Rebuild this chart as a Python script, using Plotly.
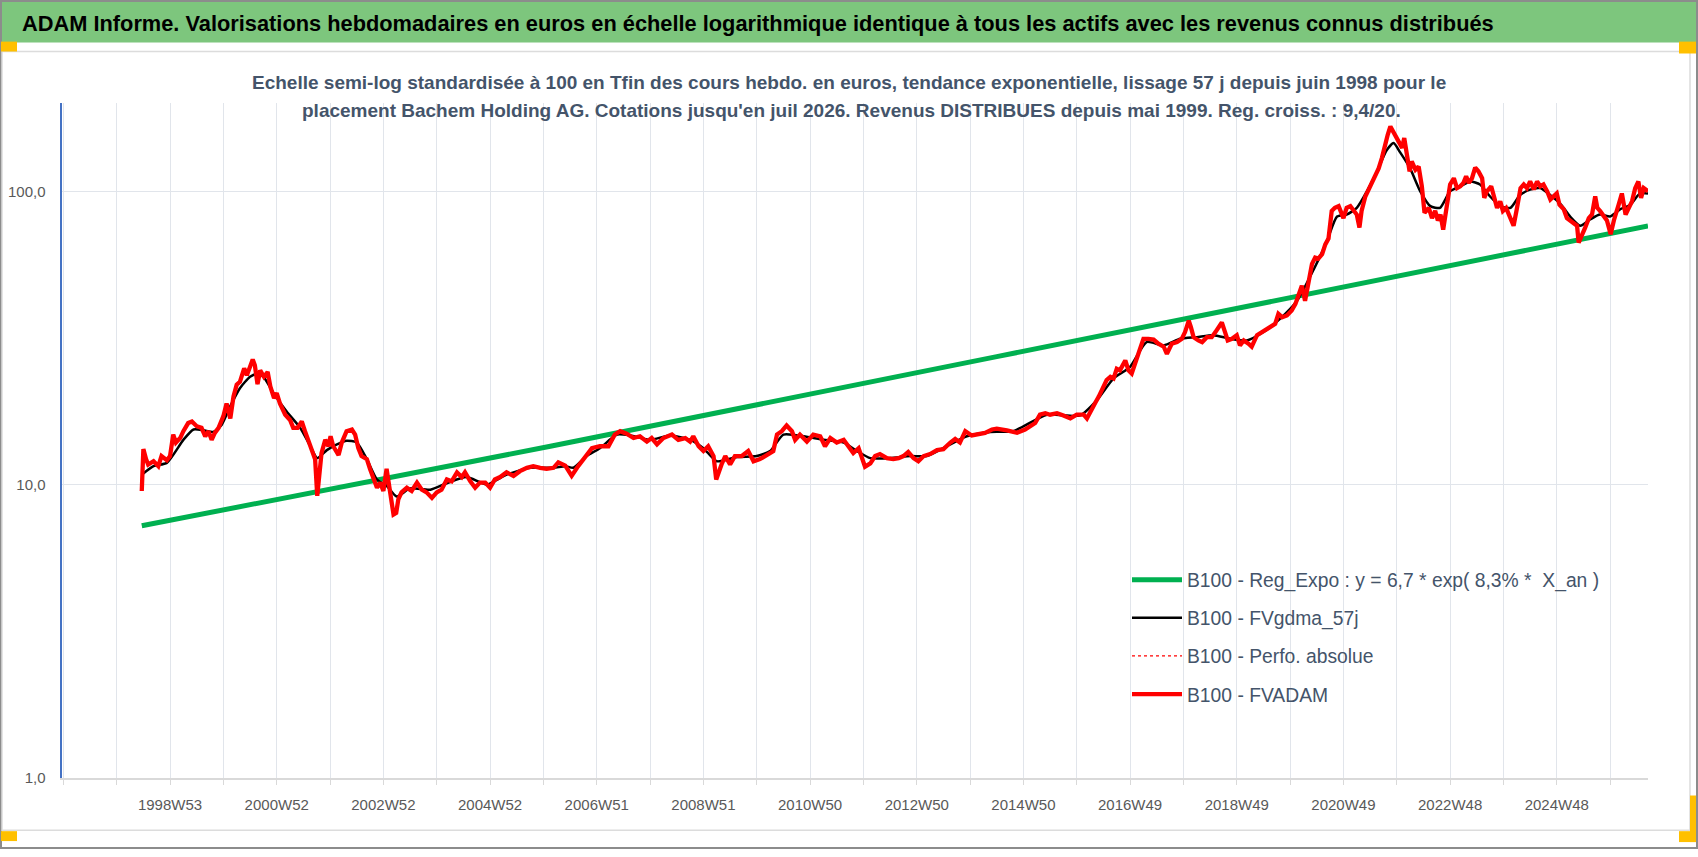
import plotly.graph_objects as go
import math

W, H = 1698, 857

# ---------------- data ----------------
# x = position in years on the weekly category axis, y = base-100 value
red_x = [1998.47, 1998.50, 1998.55, 1998.59, 1998.69, 1998.78, 1998.84, 1998.94, 1999.00, 1999.06,
         1999.11, 1999.19, 1999.25, 1999.34, 1999.41, 1999.50, 1999.59, 1999.66, 1999.72, 1999.78,
         1999.84, 1999.91, 2000.00, 2000.06, 2000.13, 2000.19, 2000.25, 2000.31, 2000.39, 2000.44,
         2000.50, 2000.55, 2000.59, 2000.64, 2000.69, 2000.76, 2000.83, 2000.88, 2000.95, 2001.00,
         2001.06, 2001.16, 2001.25, 2001.31, 2001.39, 2001.47, 2001.53, 2001.61, 2001.67, 2001.72,
         2001.76, 2001.80, 2001.84, 2001.91, 2001.97, 2002.01, 2002.06, 2002.16, 2002.22, 2002.31,
         2002.41, 2002.47, 2002.53, 2002.59, 2002.69, 2002.75, 2002.81, 2002.88, 2002.94, 2003.00,
         2003.06, 2003.13, 2003.19, 2003.24, 2003.28, 2003.34, 2003.44, 2003.53, 2003.63, 2003.72,
         2003.81, 2003.91, 2004.00, 2004.09, 2004.19, 2004.28, 2004.38, 2004.47, 2004.53, 2004.63,
         2004.72, 2004.81, 2004.91, 2005.00, 2005.09, 2005.19, 2005.31, 2005.44, 2005.56, 2005.69,
         2005.81, 2005.94, 2006.06, 2006.19, 2006.28, 2006.41, 2006.53, 2006.63, 2006.75, 2006.91,
         2007.06, 2007.22, 2007.34, 2007.44, 2007.56, 2007.69, 2007.81, 2007.94, 2008.03, 2008.13,
         2008.25, 2008.41, 2008.53, 2008.66, 2008.75, 2008.81, 2008.91, 2009.00, 2009.09, 2009.19,
         2009.24, 2009.28, 2009.34, 2009.41, 2009.50, 2009.59, 2009.72, 2009.84, 2009.94, 2010.06,
         2010.22, 2010.31, 2010.38, 2010.47, 2010.56, 2010.66, 2010.72, 2010.81, 2010.94, 2011.06,
         2011.19, 2011.28, 2011.38, 2011.50, 2011.63, 2011.72, 2011.81, 2011.91, 2011.97, 2012.03,
         2012.13, 2012.22, 2012.31, 2012.44, 2012.56, 2012.66, 2012.75, 2012.84, 2012.94, 2013.03,
         2013.13, 2013.25, 2013.38, 2013.50, 2013.63, 2013.72, 2013.81, 2013.91, 2014.03, 2014.16,
         2014.28, 2014.41, 2014.50, 2014.69, 2014.88, 2015.03, 2015.13, 2015.22, 2015.31, 2015.41,
         2015.50, 2015.63, 2015.75, 2015.88, 2016.00, 2016.13, 2016.19, 2016.25, 2016.34, 2016.41,
         2016.50, 2016.56, 2016.63, 2016.69, 2016.75, 2016.81, 2016.91, 2016.97, 2017.03, 2017.09,
         2017.16, 2017.25, 2017.34, 2017.44, 2017.53, 2017.63, 2017.69, 2017.78, 2017.88, 2017.97,
         2018.03, 2018.10, 2018.14, 2018.19, 2018.28, 2018.35, 2018.44, 2018.53, 2018.60, 2018.66,
         2018.72, 2018.78, 2018.83, 2018.91, 2019.00, 2019.06, 2019.13, 2019.22, 2019.28, 2019.38,
         2019.47, 2019.56, 2019.66, 2019.72, 2019.78, 2019.85, 2019.94, 2020.03, 2020.10, 2020.16,
         2020.22, 2020.28, 2020.35, 2020.41, 2020.47, 2020.53, 2020.60, 2020.66, 2020.72, 2020.78,
         2020.84, 2020.91, 2021.00, 2021.06, 2021.13, 2021.19, 2021.25, 2021.30, 2021.34, 2021.41,
         2021.47, 2021.53, 2021.60, 2021.66, 2021.72, 2021.78, 2021.83, 2021.88, 2021.93, 2021.97,
         2022.03, 2022.10, 2022.14, 2022.19, 2022.24, 2022.28, 2022.35, 2022.41, 2022.47, 2022.52,
         2022.60, 2022.66, 2022.72, 2022.77, 2022.82, 2022.87, 2022.94, 2023.00, 2023.07, 2023.13,
         2023.19, 2023.25, 2023.30, 2023.35, 2023.41, 2023.47, 2023.53, 2023.60, 2023.64, 2023.69,
         2023.77, 2023.82, 2023.88, 2023.94, 2023.99, 2024.05, 2024.11, 2024.19, 2024.25, 2024.32,
         2024.38, 2024.44, 2024.50, 2024.57, 2024.63, 2024.69, 2024.75, 2024.82, 2024.88, 2024.94,
         2025.00, 2025.05, 2025.13, 2025.19, 2025.25, 2025.32, 2025.38, 2025.41, 2025.47, 2025.53,
         2025.60, 2025.66, 2025.72, 2025.76, 2025.81, 2025.88, 2025.94, 2026.01, 2026.07, 2026.16,
         2026.22, 2026.29, 2026.35, 2026.41, 2026.47, 2026.53, 2026.58, 2026.63, 2026.71]
red_y = [9.5, 13.2, 12.2, 11.7, 12.0, 11.55, 12.5, 12.1, 12.5, 14.8,
         13.9, 14.4, 15.2, 16.2, 16.4, 15.8, 15.6, 14.6, 15.2, 14.2,
         15.0, 15.6, 17.1, 18.9, 16.8, 19.95, 21.9, 22.4, 24.9, 23.6,
         25.2, 26.7, 25.5, 22.0, 24.5, 23.3, 24.2, 21.6, 19.7, 20.5,
         18.9, 17.3, 16.6, 15.6, 15.6, 16.4, 15.2, 13.9, 12.8, 12.2,
         9.15, 11.0, 12.8, 14.2, 13.5, 14.6, 13.5, 12.6, 13.9, 15.2,
         15.4, 14.8, 13.3, 12.5, 12.2, 11.3, 10.6, 9.75, 10.15, 9.5,
         11.3, 9.4, 7.9, 8.0, 8.9, 9.4, 9.75, 9.5, 10.15, 9.6,
         9.4, 9.0, 9.4, 9.6, 10.4, 10.25, 11.0, 10.6, 11.0, 10.25,
         9.75, 10.15, 10.15, 9.75, 10.4, 10.6, 11.0, 10.7, 11.1, 11.4,
         11.55, 11.4, 11.3, 11.4, 11.9, 11.6, 10.7, 11.4, 12.2, 13.3,
         13.5, 13.5, 14.8, 15.2, 14.9, 14.4, 14.6, 14.0, 14.4, 13.7,
         14.4, 14.8, 14.2, 14.4, 14.0, 14.6, 13.5, 13.0, 13.5, 12.5,
         10.4, 11.0, 11.7, 12.5, 11.7, 12.5, 12.5, 13.0, 12.0, 12.2,
         12.7, 13.0, 14.8, 15.2, 15.9, 15.2, 14.2, 14.8, 14.0, 14.8,
         14.6, 13.5, 14.4, 13.9, 14.2, 13.5, 12.8, 13.3, 12.5, 11.5,
         11.8, 12.5, 12.7, 12.3, 12.2, 12.3, 12.5, 12.9, 12.3, 12.0,
         12.5, 12.7, 13.1, 13.2, 13.9, 14.3, 13.9, 15.2, 14.7, 14.9,
         15.0, 15.4, 15.5, 15.3, 15.0, 15.4, 15.8, 16.2, 17.3, 17.5,
         17.3, 17.5, 17.2, 16.8, 17.3, 17.3, 16.8, 17.5, 18.9, 19.9,
         21.6, 22.7, 23.3, 23.0, 24.8, 24.5, 26.5, 24.5, 23.9, 25.8,
         27.9, 31.4, 31.4, 31.2, 30.2, 29.5, 27.9, 30.2, 30.6, 31.4,
         33.1, 36.2, 34.4, 31.8, 31.0, 30.6, 31.8, 31.8, 33.1, 34.4,
         35.7, 33.1, 31.0, 31.4, 32.3, 29.8, 31.0, 30.2, 29.5, 32.3,
         33.1, 33.9, 34.9, 35.3, 38.2, 37.2, 37.7, 39.2, 41.3, 44.0,
         47.6, 42.3, 49.5, 56.5, 59.4, 59.0, 61.0, 65.9, 69.0, 85.6,
         87.8, 89.0, 81.0, 87.8, 89.0, 85.7, 83.3, 75.2, 85.7, 96.0,
         101.3, 106.8, 112.5, 119.7, 129.8, 146.0, 155.8, 166.3, 160.0, 155.8,
         150.0, 140.6, 152.0, 129.8, 117.0, 126.5, 118.5, 121.5, 104.0, 84.5,
         87.8, 81.0, 85.7, 79.5, 83.3, 74.0, 87.8, 105.5, 110.8, 102.5,
         104.0, 106.8, 112.5, 106.8, 110.8, 120.5, 117.0, 110.8, 95.0, 100.0,
         104.0, 95.0, 87.8, 92.4, 85.7, 87.8, 83.3, 76.3, 86.9, 102.5,
         105.5, 102.5, 108.0, 101.5, 108.0, 104.0, 105.5, 100.0, 93.8, 96.0,
         98.3, 90.0, 86.9, 81.0, 79.5, 78.3, 76.3, 66.8, 70.2, 75.0,
         81.0, 83.3, 96.0, 87.8, 85.7, 82.0, 79.5, 71.4, 79.5, 90.0,
         98.3, 83.3, 87.8, 92.4, 102.5, 108.0, 95.0, 102.5, 100.0]

black_x = [1998.47, 1998.69, 1998.94, 1999.25, 1999.44, 1999.63, 1999.81, 1999.97, 2000.13, 2000.31,
           2000.50, 2000.63, 2000.75, 2000.94, 2001.19, 2001.44, 2001.63, 2001.76, 2001.94, 2002.13,
           2002.31, 2002.50, 2002.69, 2002.88, 2003.06, 2003.25, 2003.50, 2003.88, 2004.19, 2004.56,
           2004.94, 2005.31, 2005.75, 2006.19, 2006.41, 2006.56, 2006.81, 2007.06, 2007.38, 2007.63,
           2008.00, 2008.38, 2008.75, 2009.00, 2009.25, 2009.63, 2010.00, 2010.25, 2010.50, 2010.88,
           2011.25, 2011.63, 2011.88, 2012.13, 2012.50, 2012.88, 2013.19, 2013.56, 2013.94, 2014.38,
           2014.81, 2015.44, 2016.06, 2016.38, 2016.69, 2017.00, 2017.31, 2017.63, 2017.94, 2018.25,
           2018.56, 2018.88, 2019.19, 2019.50, 2019.81, 2020.13, 2020.44, 2020.69, 2020.88, 2021.06,
           2021.25, 2021.44, 2021.63, 2021.81, 2021.94, 2022.06, 2022.25, 2022.44, 2022.63, 2022.81,
           2023.00, 2023.19, 2023.38, 2023.56, 2023.75, 2023.94, 2024.13, 2024.31, 2024.50, 2024.69,
           2024.88, 2025.06, 2025.25, 2025.44, 2025.63, 2025.81, 2026.00, 2026.19, 2026.38, 2026.56,
           2026.71]
black_y = [10.8, 11.55, 11.85, 14.2, 15.4, 15.3, 15.1, 16.0, 18.5, 21.3,
           23.3, 23.8, 23.3, 20.5, 17.7, 15.6, 13.5, 12.3, 13.1, 13.7,
           14.1, 13.9, 12.2, 10.4, 9.9, 9.1, 9.7, 9.6, 10.1, 10.6,
           10.0, 10.8, 11.4, 11.4, 11.55, 11.4, 12.5, 13.3, 14.8, 14.7,
           14.2, 14.7, 14.2, 13.3, 12.0, 12.4, 12.5, 13.0, 14.8, 14.6,
           14.2, 13.9, 13.0, 12.3, 12.3, 12.5, 12.5, 13.5, 14.6, 15.1,
           15.2, 17.3, 17.2, 19.4, 23.0, 25.2, 30.6, 29.8, 31.4, 31.8,
           32.3, 31.4, 31.0, 33.1, 36.7, 42.3, 54.0, 67.6, 82.0, 83.3,
           87.8, 100.0, 117.0, 138.0, 146.0, 136.0, 119.7, 100.0, 89.0, 87.8,
           100.0, 104.0, 108.0, 105.5, 96.0, 89.0, 87.8, 97.0, 101.3, 102.5,
           97.0, 91.0, 82.0, 76.3, 80.3, 83.3, 82.0, 86.9, 90.0, 98.3,
           98.3]

green_x = [1998.47, 2006.13, 2014.50, 2020.19, 2026.71]
green_y = [7.23, 13.5, 27.3, 44.2, 76.2]

tick_years = list(range(1997, 2027))
tick_labels = {1999: "1998W53", 2001: "2000W52", 2003: "2002W52", 2005: "2004W52",
               2007: "2006W51", 2009: "2008W51", 2011: "2010W50", 2013: "2012W50",
               2015: "2014W50", 2017: "2016W49", 2019: "2018W49", 2021: "2020W49",
               2023: "2022W48", 2025: "2024W48"}
y_ticks = [1, 10, 100]
y_tick_text = ["1,0", "10,0", "100,0"]

names = ["B100 - Reg_Expo : y = 6,7 * exp( 8,3% *  X_an )",
         "B100 - FVgdma_57j",
         "B100 - Perfo. absolue",
         "B100 - FVADAM"]

title_text = ("ADAM Informe. Valorisations hebdomadaires en euros en échelle logarithmique "
              "identique à tous les actifs avec les revenus connus distribués")
sub1 = ("Echelle semi-log standardisée à 100 en Tfin des cours hebdo. en euros, tendance "
        "exponentielle, lissage 57 j depuis juin 1998 pour le")
sub2 = ("placement Bachem Holding AG. Cotations jusqu'en juil 2026. Revenus DISTRIBUES "
        "depuis mai 1999. Reg. croiss. : 9,4/20.")

# ---------------- figure ----------------
def px(x):
    return x / W

def py(y):
    return 1 - y / H

FONT = "Liberation Sans, Arial, sans-serif"
TXT = "#44546A"

fig = go.Figure()
fig.add_trace(go.Scatter(x=green_x, y=green_y, mode="lines", name=names[0], legendgroup="g1",
                         line=dict(color="#00B050", width=5)))
fig.add_trace(go.Scatter(x=black_x, y=black_y, mode="lines", name=names[1], legendgroup="g2",
                         line=dict(color="#000000", width=2.5, shape="spline", smoothing=0.6)))
fig.add_trace(go.Scatter(x=red_x, y=red_y, mode="lines", name=names[2], legendgroup="g3",
                         line=dict(color="#FF0000", width=1.2, dash="dot")))
fig.add_trace(go.Scatter(x=red_x, y=red_y, mode="lines", name=names[3], legendgroup="g4",
                         line=dict(color="#FF0000", width=4.3)))

shapes = [
    # outer border
    dict(type="rect", xref="paper", yref="paper", x0=px(1), y0=py(856), x1=px(1697), y1=py(1),
         line=dict(color="#8C8C8C", width=2), fillcolor="rgba(0,0,0,0)", layer="below"),
    # green header
    dict(type="rect", xref="paper", yref="paper", x0=px(2), y0=py(43), x1=px(1696), y1=py(2),
         line=dict(width=0), fillcolor="#7DC67D", layer="below"),
    # inner chart frame
    dict(type="rect", xref="paper", yref="paper", x0=px(2), y0=py(838), x1=px(1690), y1=py(52),
         line=dict(color="#DCDCDC", width=1.5), fillcolor="rgba(0,0,0,0)", layer="below"),
    # selection handles
    dict(type="rect", xref="paper", yref="paper", x0=px(1), y0=py(52), x1=px(17), y1=py(42),
         line=dict(width=0), fillcolor="#FFC000"),
    dict(type="rect", xref="paper", yref="paper", x0=px(1679), y0=py(54), x1=px(1696), y1=py(42),
         line=dict(width=0), fillcolor="#FFC000"),
    dict(type="rect", xref="paper", yref="paper", x0=px(1), y0=py(849), x1=px(17), y1=py(839),
         line=dict(width=0), fillcolor="#FFC000"),
    dict(type="rect", xref="paper", yref="paper", x0=px(1690), y0=py(850), x1=px(1696), y1=py(803),
         line=dict(width=0), fillcolor="#FFC000"),
    dict(type="rect", xref="paper", yref="paper", x0=px(1679), y0=py(850), x1=px(1696), y1=py(839),
         line=dict(width=0), fillcolor="#FFC000"),
]

annotations = [
    dict(text="<b>" + title_text + "</b>", xref="paper", yref="paper", x=px(20), y=py(24),
         xanchor="left", yanchor="middle", showarrow=False,
         font=dict(family=FONT, size=21.8, color="#000000")),
    dict(text="<b>" + sub1 + "</b>", xref="paper", yref="paper", x=px(849), y=py(83),
         xanchor="center", yanchor="middle", showarrow=False,
         font=dict(family=FONT, size=19, color=TXT)),
    dict(text="<b>" + sub2 + "</b>", xref="paper", yref="paper", x=px(851), y=py(112),
         xanchor="center", yanchor="middle", showarrow=False,
         font=dict(family=FONT, size=19, color=TXT)),
]

fig.update_layout(
    width=W, height=H,
    margin=dict(l=0, r=0, t=0, b=0),
    paper_bgcolor="#FFFFFF", plot_bgcolor="rgba(0,0,0,0)",
    font=dict(family=FONT, color="#595959"),
    shapes=shapes, annotations=annotations,
    showlegend=True,
    legend=dict(x=px(1127), y=py(566), xanchor="left", yanchor="top",
                bgcolor="rgba(0,0,0,0)", tracegroupgap=10, itemwidth=50,
                font=dict(family=FONT, size=19.3, color=TXT), traceorder="grouped"),
    xaxis=dict(domain=[px(62.3), px(1648)], range=[1996.98, 2026.71],
               tickmode="array", tickvals=tick_years,
               ticktext=[tick_labels.get(y, "") for y in tick_years],
               showgrid=True, gridcolor="#E1E5EB", gridwidth=1.3,
               showline=True, linecolor="#D9D9D9", linewidth=1.5,
               ticks="outside", ticklen=6, tickcolor="#D9D9D9", tickwidth=1.3,
               ticklabelstandoff=7,
               tickfont=dict(family=FONT, size=15, color="#595959"), zeroline=False),
    yaxis=dict(type="log", domain=[py(785), py(104)], range=[0, math.log10(200)],
               tickmode="array", tickvals=y_ticks, ticktext=y_tick_text,
               showgrid=True, gridcolor="#E1E5EB", gridwidth=1.3,
               showline=True, linecolor="#4472C4", linewidth=1.5,
               ticks="", ticklabelstandoff=12,
               tickfont=dict(family=FONT, size=15, color="#595959"), zeroline=False),
)

fig.write_html("out.html", config={"displayModeBar": False},
               post_script="document.body.style.margin='0';document.body.style.overflow='hidden';")
